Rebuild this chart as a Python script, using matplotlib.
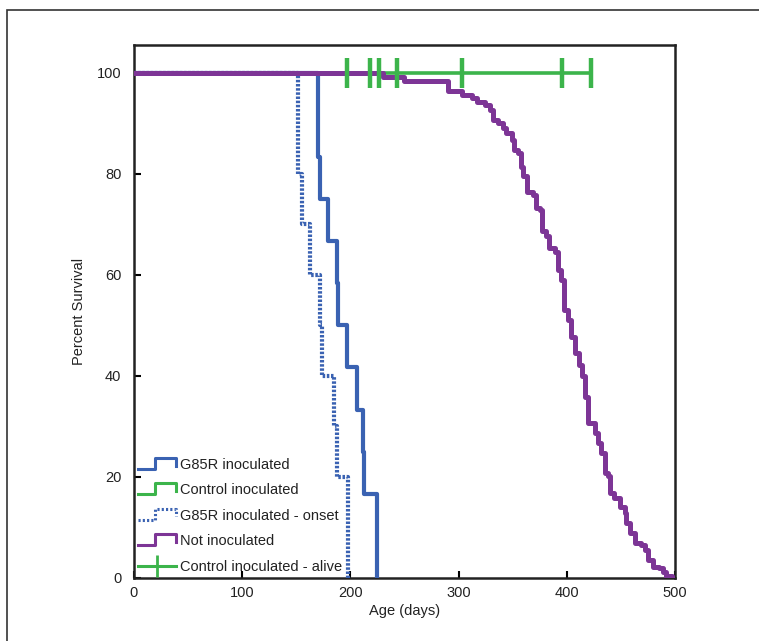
import matplotlib.pyplot as plt
from matplotlib.lines import Line2D
from matplotlib.patches import Rectangle
from matplotlib.legend_handler import HandlerBase

plt.rcParams['font.family'] = ['Liberation Sans', 'DejaVu Sans']

# G85R inoculated (survival)
g85r_days = [0, 170, 172, 179, 188, 189, 197, 206, 212, 213, 225]
g85r_surv = [100, 83.3, 75, 66.7, 58.3, 50, 41.7, 33.3, 25, 16.7, 0]

# G85R inoculated - onset
onset_days = [0, 152, 155, 163, 172, 174, 185, 188, 198]
onset_surv = [100, 80, 70, 60, 50, 40, 30, 20, 0]

# Control inoculated (all alive) + censor marks
ctrl_days = [0, 422]
ctrl_surv = [100, 100]
ctrl_alive = [197, 218, 226, 243, 303, 396, 422]

# Not inoculated
noinoc_days = [0, 230, 250, 290, 303, 312, 317, 324, 329, 332,
               336, 341, 344, 349, 351, 355, 358, 360, 363, 369,
               372, 375, 377, 381, 384, 389, 392, 395, 397, 401,
               404, 408, 411, 414, 417, 420, 426, 429, 432, 435,
               438, 440, 444, 449, 454, 455, 458, 463, 469, 472,
               475, 480, 485, 489, 492, 497]
noinoc_surv = [100, 99.1, 98.3, 96.3, 95.6, 95.0, 94.3, 93.7, 92.7, 90.7,
               90.0, 89.0, 88.1, 86.7, 84.8, 84.1, 81.4, 79.5, 76.5, 75.8,
               73.2, 72.9, 68.6, 67.6, 65.3, 64.6, 61.0, 59.0, 53.1, 51.1,
               47.8, 44.5, 42.2, 39.9, 35.9, 30.6, 28.7, 26.7, 24.7, 20.7,
               20.1, 16.8, 15.8, 14.1, 12.8, 10.8, 8.9, 6.9, 6.5, 5.5,
               3.6, 2.2, 1.9, 1.2, 0.3, 0]

blue = '#3a62b2'
green = '#3cb44b'
purple = '#7d3596'


class StepHandler(HandlerBase):
    # little step icon like in the original legend
    def create_artists(self, legend, orig_handle, xdescent, ydescent,
                       width, height, fontsize, trans):
        x0 = -xdescent
        y0 = -ydescent
        xs = [x0, x0 + 0.45 * width, x0 + 0.45 * width, x0 + width, x0 + width]
        ys = [y0, y0, y0 + 1.1 * height, y0 + 1.1 * height, y0 + 0.35 * height]
        ln = Line2D(xs, ys)
        ln.update_from(orig_handle)
        ln.set_linewidth(2.2)
        ln.set_transform(trans)
        return [ln]


fig = plt.figure(figsize=(7.59, 6.41), dpi=100)
ax = fig.add_axes([0.1765, 0.0983, 0.7128, 0.8315])

ax.plot(ctrl_days, ctrl_surv, color=green, lw=2.6, zorder=2)
ax.plot(onset_days, onset_surv, color=blue, lw=3, ls=(0, (0.6, 0.4)),
        drawstyle='steps-post', zorder=3)
ax.plot(g85r_days, g85r_surv, color=blue, lw=3, drawstyle='steps-post', zorder=3)
ax.plot(noinoc_days, noinoc_surv, color=purple, lw=3.6, drawstyle='steps-post', zorder=4)
ax.plot(ctrl_alive, [100] * len(ctrl_alive), ls='none', marker='|', ms=22,
        mew=3.2, color=green, zorder=5)

ax.set_xlim(0, 500)
ax.set_ylim(0, 105.5)
ax.set_xticks([0, 100, 200, 300, 400, 500])
ax.set_yticks([0, 20, 40, 60, 80, 100])
ax.tick_params(direction='in', length=5, width=1.5, labelsize=10.5, pad=6,
               labelcolor='#222222')
ax.tick_params(axis='y', pad=9)
for s in ax.spines.values():
    s.set_linewidth(1.8)
    s.set_color('#222222')

ax.set_xlabel('Age (days)', fontsize=10.5, labelpad=3, color='#222222')
ax.set_ylabel('Percent Survival', fontsize=10.5, labelpad=8, color='#222222')

h1 = Line2D([], [], color=blue, lw=2)
h2 = Line2D([], [], color=green, lw=2)
h3 = Line2D([], [], color=blue, lw=2, ls=(0, (0.7, 0.7)))
h4 = Line2D([], [], color=purple, lw=2)
h5 = Line2D([], [], color=green, lw=2.2, marker='|', ms=16, mew=2)
sh = StepHandler()
leg = ax.legend([h1, h2, h3, h4, h5],
                ['G85R inoculated', 'Control inoculated', 'G85R inoculated - onset',
                 'Not inoculated', 'Control inoculated - alive'],
                handler_map={h1: sh, h2: sh, h3: sh, h4: sh},
                loc='lower left', frameon=False, fontsize=10.5, handlelength=2.6,
                handletextpad=0.25, labelspacing=0.78, borderaxespad=0.1,
                borderpad=0.2, numpoints=1)
for t in leg.get_texts():
    t.set_color('#222222')

# outer frame of the original figure panel
fig.patches.append(Rectangle((7 / 759, -0.2), 1.5, 1.2 - 10 / 641,
                             transform=fig.transFigure, fill=False,
                             lw=1.2, ec='#333333'))

fig.savefig('out.png', dpi=100)
